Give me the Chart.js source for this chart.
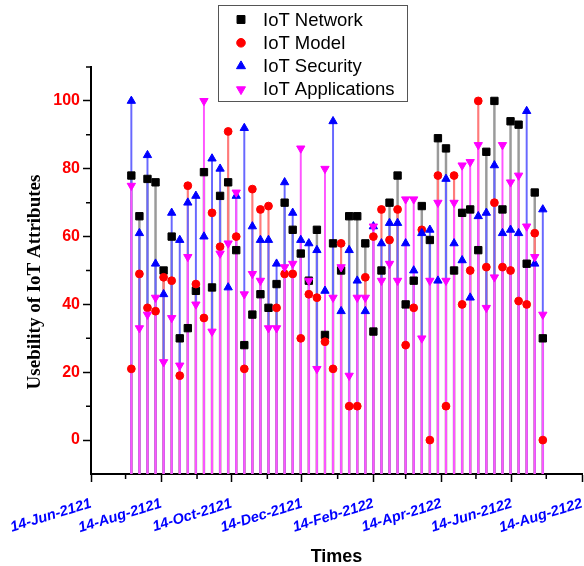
<!DOCTYPE html>
<html>
<head>
<meta charset="utf-8">
<script src="https://cdn.jsdelivr.net/npm/chart.js@4.4.1/dist/chart.umd.min.js"></script>
<style>
  html, body { margin: 0; padding: 0; background: #fff; }
  #wrap { width: 584px; height: 566px; }
</style>
</head>
<body>
<div id="wrap"><canvas id="chart" width="584" height="566"></canvas></div>
<script>
// weekly sampling dates
const dates = [
  "19-Jul-2121", "26-Jul-2121", "02-Aug-2121", "09-Aug-2121", "16-Aug-2121", "23-Aug-2121", "30-Aug-2121",
  "06-Sep-2121", "13-Sep-2121", "20-Sep-2121", "27-Sep-2121", "04-Oct-2121", "11-Oct-2121", "18-Oct-2121",
  "25-Oct-2121", "01-Nov-2121", "08-Nov-2121", "15-Nov-2121", "22-Nov-2121", "29-Nov-2121", "06-Dec-2121",
  "13-Dec-2121", "20-Dec-2121", "27-Dec-2121", "03-Jan-2122", "10-Jan-2122", "17-Jan-2122", "24-Jan-2122",
  "31-Jan-2122", "07-Feb-2122", "14-Feb-2122", "21-Feb-2122", "28-Feb-2122", "07-Mar-2122", "14-Mar-2122",
  "21-Mar-2122", "28-Mar-2122", "04-Apr-2122", "11-Apr-2122", "18-Apr-2122", "25-Apr-2122", "02-May-2122",
  "09-May-2122", "16-May-2122", "23-May-2122", "30-May-2122", "06-Jun-2122", "13-Jun-2122", "20-Jun-2122",
  "27-Jun-2122", "04-Jul-2122", "11-Jul-2122"
];

const iotNetwork = [78, 66, 77, 76, 50, 60, 30, 33, 44, 79, 45, 72, 76, 56, 28, 37, 43, 39, 46, 70, 62, 55, 47, 62, 31, 58,
  50, 66, 66, 58, 32, 50, 70, 78, 40, 47, 69, 59, 89, 86, 50, 67, 68, 56, 85, 100, 68, 94, 93, 52, 73, 30];
const iotModel = [21, 49, 39, 38, 48, 47, 19, 75, 46, 36, 67, 57, 91, 60, 21, 74, 68, 69, 39, 49, 49, 30, 43, 42, 29, 21,
  58, 10, 10, 48, 60, 68, 59, 68, 28, 39, 62, 0, 78, 10, 78, 40, 50, 100, 51, 70, 51, 50, 41, 40, 61, 0];
const iotSecurity = [100, 61, 84, 52, 43, 67, 59, 70, 72, 60, 83, 80, 45, 72, 92, 63, 59, 59, 52, 76, 67, 59, 58, 56, 44, 94,
  38, 56, 47, 38, 63, 58, 64, 64, 58, 50, 61, 62, 47, 77, 58, 53, 42, 66, 67, 81, 61, 62, 61, 97, 52, 68];
const iotApplications = [75, 33, 37, 42, 23, 36, 22, 54, 40, 100, 32, 55, 58, 73, 43, 49, 47, 33, 33, 51, 52, 86, 47, 21, 80, 42,
  51, 19, 42, 42, 63, 47, 52, 47, 71, 71, 30, 47, 70, 47, 70, 81, 82, 87, 39, 48, 87, 76, 78, 63, 54, 37];

const axisStart = "14-Jun-2121";
const axisEnd = "14-Aug-2122";
const majorTicks = ["14-Jun-2121", "14-Aug-2121", "14-Oct-2121", "14-Dec-2121", "14-Feb-2122", "14-Apr-2122", "14-Jun-2122", "14-Aug-2122"];
const minorTicks = ["14-Jul-2121", "14-Sep-2121", "14-Nov-2121", "14-Jan-2122", "14-Mar-2122", "14-May-2122", "14-Jul-2122"];
const yMin = -10, yMax = 110;
const yTitle = "Usebility of IoT Attributes";

const MONTHS = { Jan: 0, Feb: 1, Mar: 2, Apr: 3, May: 4, Jun: 5, Jul: 6, Aug: 7, Sep: 8, Oct: 9, Nov: 10, Dec: 11 };
function dayOf(s) {
  const [d, m, y] = s.split("-");
  const t = Date.UTC(+y, MONTHS[m], +d);
  const [d0, m0, y0] = axisStart.split("-");
  return Math.round((t - Date.UTC(+y0, MONTHS[m0], +d0)) / 864e5);
}
const days = dates.map(dayOf);
const labelByDay = {};
majorTicks.forEach(t => { labelByDay[dayOf(t)] = t; });

const series = [
  { label: "IoT Network",      values: iotNetwork,      color: "#000000", stem: "#9a9a9a", stemW: 1.8, style: "rect",     radius: 5.2, rot: 0 },
  { label: "IoT Model",        values: iotModel,        color: "#ff0000", stem: "#ff7a7a", stemW: 1.5, style: "circle",   radius: 3.9, rot: 0 },
  { label: "IoT Security",     values: iotSecurity,     color: "#0000ff", stem: "#6868ff", stemW: 1.3, style: "triangle", radius: 4.8, rot: 0 },
  { label: "IoT Applications", values: iotApplications, color: "#ff00ff", stem: "#ff55ff", stemW: 1.3, style: "triangle", radius: 4.8, rot: 180 }
];

const datasets = [];
series.forEach((s, k) => {
  // drop lines from each point to the bottom axis
  datasets.push({
    type: "bar",
    label: s.label + " stem",
    data: days.map((d, i) => ({ x: d, y: [yMin, s.values[i]] })),
    backgroundColor: s.stem,
    borderWidth: 0,
    barThickness: s.stemW,
    grouped: false,
    order: 13 - k
  });
  datasets.push({
    type: "scatter",
    label: s.label,
    data: days.map((d, i) => ({ x: d, y: s.values[i] })),
    pointStyle: s.style,
    pointRotation: s.rot,
    pointRadius: s.radius,
    pointBackgroundColor: s.color,
    pointBorderColor: s.color,
    pointBorderWidth: 1,
    order: 3 - k
  });
});

const minorTickPlugin = {
  id: "minorTicks",
  afterDraw(chart) {
    const ctx = chart.ctx, xs = chart.scales.x, ys = chart.scales.y;
    ctx.save();
    ctx.strokeStyle = "#000";
    ctx.lineWidth = 1.5;
    ctx.beginPath();
    minorTicks.forEach(t => {
      const px = xs.getPixelForValue(dayOf(t));
      ctx.moveTo(px, xs.top);
      ctx.lineTo(px, xs.top + 5);
    });
    for (let v = 10; v <= yMax; v += 20) {
      const py = ys.getPixelForValue(v);
      ctx.moveTo(ys.right, py);
      ctx.lineTo(ys.right - 5, py);
    }
    ctx.stroke();
    // y axis title, centred a little below the middle as in the source figure
    ctx.translate(35, 282);
    ctx.rotate(-Math.PI / 2);
    ctx.fillStyle = "#000";
    ctx.font = "bold 19px 'Liberation Serif', 'Times New Roman', serif";
    ctx.textAlign = "center";
    ctx.textBaseline = "middle";
    ctx.fillText(yTitle, 0, 0);
    ctx.restore();
  }
};

const legendPlugin = {
  id: "boxLegend",
  afterDraw(chart) {
    const ctx = chart.ctx;
    const bx = 218.5, by = 5.5, bw = 189, bh = 96;
    ctx.save();
    ctx.fillStyle = "#fff";
    ctx.fillRect(bx, by, bw, bh);
    ctx.strokeStyle = "#555";
    ctx.lineWidth = 1;
    ctx.strokeRect(bx, by, bw, bh);
    ctx.font = "18.5px 'Liberation Sans', Arial, sans-serif";
    ctx.textBaseline = "middle";
    series.forEach((s, k) => {
      const cy = 19.5 + k * 23.3;
      ctx.fillStyle = s.color;
      ctx.strokeStyle = s.color;
      Chart.helpers.drawPoint(ctx, { pointStyle: s.style, rotation: s.rot, radius: s.radius + 0.4, borderWidth: 1 }, 241, cy);
      ctx.fillStyle = "#000";
      ctx.fillText(s.label, 263, cy + 1);
    });
    ctx.restore();
  }
};

new Chart(document.getElementById("chart"), {
  type: "scatter",
  data: { datasets },
  plugins: [minorTickPlugin, legendPlugin],
  options: {
    responsive: false,
    animation: false,
    layout: { autoPadding: false, padding: { top: 67, right: 2, left: 0, bottom: 0 } },
    plugins: { legend: { display: false }, tooltip: { enabled: false } },
    scales: {
      x: {
        type: "linear",
        position: "bottom",
        offset: false,
        min: dayOf(axisStart),
        max: dayOf(axisEnd),
        afterBuildTicks: scale => { scale.ticks = majorTicks.map(t => ({ value: dayOf(t) })); },
        afterFit: scale => { scale.height = 92; scale.paddingLeft = 0; scale.paddingRight = 0; },
        border: { display: true, color: "#000", width: 2 },
        grid: { offset: false, drawOnChartArea: false, drawTicks: true, tickLength: 8, tickWidth: 1.5, tickColor: "#000" },
        ticks: {
          autoSkip: false,
          minRotation: 17,
          maxRotation: 17,
          padding: 13,
          color: "#0000ff",
          font: { family: "'Liberation Sans', Arial, sans-serif", size: 14.5, weight: "bold", style: "italic" },
          callback: v => labelByDay[v] || ""
        },
        title: {
          display: true,
          text: "Times",
          color: "#000",
          padding: { top: 0, bottom: 0 },
          font: { family: "'Liberation Sans', Arial, sans-serif", size: 18, weight: "bold", lineHeight: 1.0 }
        }
      },
      y: {
        min: yMin,
        max: yMax,
        afterFit: scale => { scale.width = 91; scale.paddingTop = 0; scale.paddingBottom = 0; },
        border: { display: true, color: "#000", width: 2 },
        grid: {
          offset: false,
          drawOnChartArea: false,
          drawTicks: true,
          tickLength: 8,
          tickWidth: 1.5,
          tickColor: c => (c.tick && c.tick.value >= 0 && c.tick.value <= 100 && c.tick.value % 20 === 0) ? "#000" : "rgba(0,0,0,0)"
        },
        ticks: {
          stepSize: 10,
          padding: 3,
          color: "#ff0000",
          font: { family: "'Liberation Sans', Arial, sans-serif", size: 16, weight: "bold" },
          callback: v => (v >= 0 && v <= 100 && v % 20 === 0) ? v : ""
        },
        title: { display: false }
      }
    }
  }
});
</script>
</body>
</html>
